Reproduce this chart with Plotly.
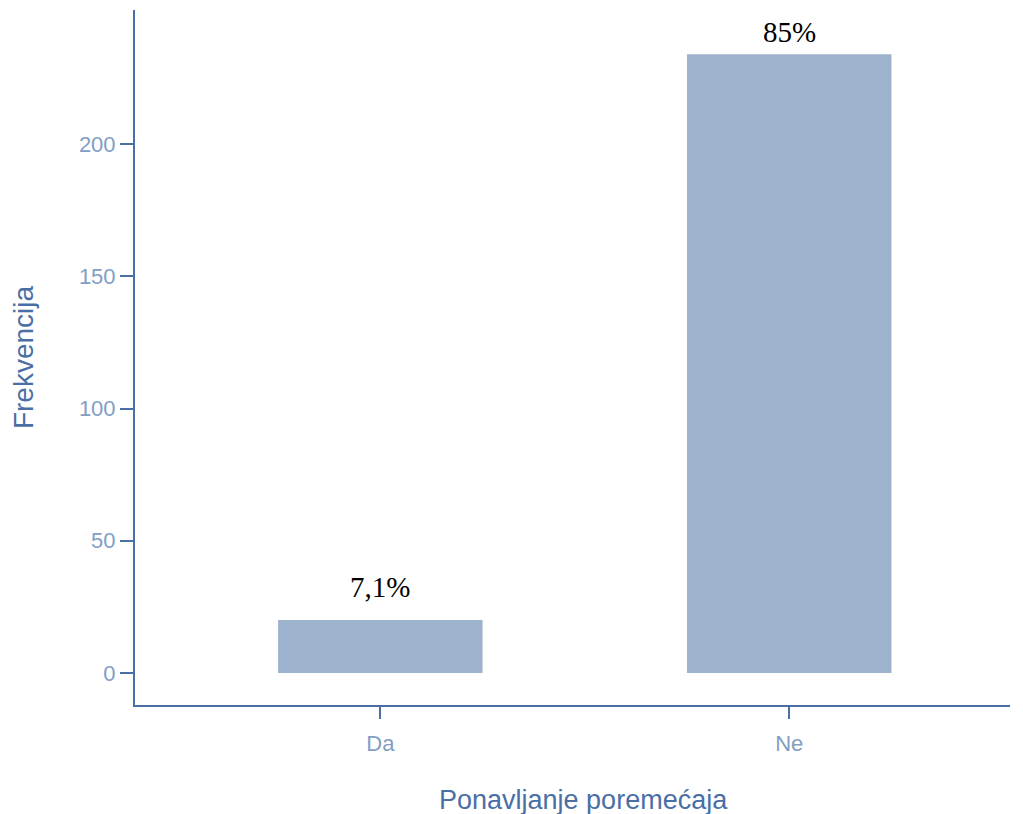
import plotly.graph_objects as go

categories = ["Da", "Ne"]
frequencies = [20, 234]
pct_labels = ["7,1%", "85%"]
label_gap_px = [15, 4]
y_ticks = [0, 50, 100, 150, 200]

axis_col = "#4a6fa5"
tick_col = "#829ec4"
bar_col = "#9db2cd"

fig = go.Figure()
fig.add_trace(go.Bar(
    x=categories, y=frequencies, width=0.5,
    marker=dict(color=bar_col, line=dict(width=0)),
    hoverinfo="x+y",
))
for c, v, t, g in zip(categories, frequencies, pct_labels, label_gap_px):
    fig.add_annotation(
        x=c, y=v, text=t, showarrow=False, yanchor="bottom", yshift=g,
        font=dict(family="Liberation Serif", size=29, color="black"),
    )

# x-axis title (placed slightly right of centre as in the reference)
fig.add_annotation(
    xref="paper", yref="paper", x=0.513, y=0, yshift=-95,
    xanchor="center", yanchor="middle", showarrow=False,
    text="Ponavljanje poremećaja",
    font=dict(family="Liberation Sans", size=27, color=axis_col),
)

fig.update_layout(
    width=1023, height=814,
    margin=dict(l=127, r=21, t=2, b=117),
    plot_bgcolor="white", paper_bgcolor="white",
    showlegend=False,
    font=dict(family="Liberation Sans"),
)
fig.update_xaxes(
    range=[-0.6, 1.54], showline=True, linecolor=axis_col, linewidth=2,
    ticks="outside", ticklen=12, tickwidth=2, tickcolor=axis_col,
    tickfont=dict(size=22, color=tick_col), ticklabelstandoff=6,
    showgrid=False, zeroline=False,
)
fig.update_yaxes(
    range=[-12.1, 250.7], showline=True, linecolor=axis_col, linewidth=2,
    tickvals=y_ticks, ticks="outside", ticklen=13, tickwidth=2, tickcolor=axis_col,
    tickfont=dict(size=22, color=tick_col),
    title=dict(text="Frekvencija", font=dict(size=28, color=axis_col), standoff=38),
    showgrid=False, zeroline=False,
)

fig.write_html("out.html")
